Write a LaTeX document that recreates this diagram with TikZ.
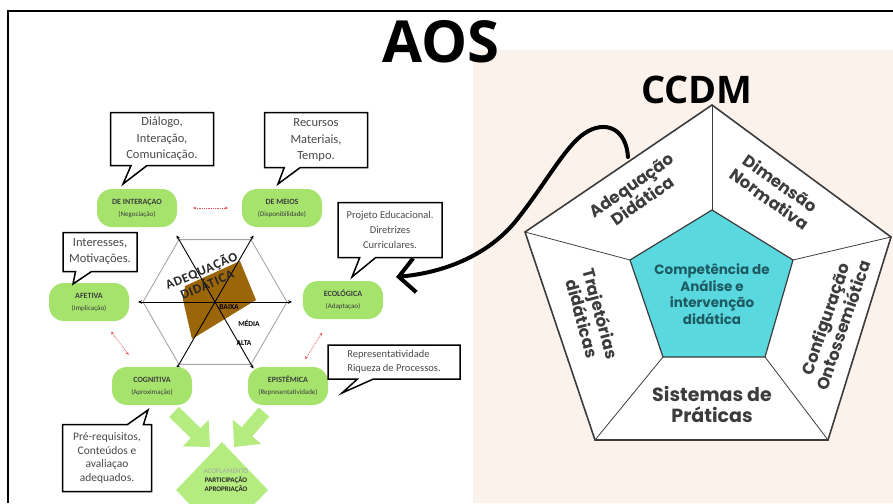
\documentclass[tikz,border=0pt]{standalone}
\usepackage{fontspec}
\setmainfont{Carlito}
\newfontfamily\titlefont{Open Sans}
\newfontfamily\popfont{Poppins}
\usepackage{tikz}
\usetikzlibrary{arrows.meta, positioning, shapes, calc}

\definecolor{peach}{HTML}{FBF2EC}
\definecolor{leaf}{HTML}{A5E36D}
\definecolor{leafarrow}{HTML}{B4EC80}
\definecolor{bronze}{HTML}{9B660A}
\definecolor{tealfill}{HTML}{5AD8DF}
\definecolor{tealtext}{HTML}{1E5A62}
\definecolor{inkgray}{HTML}{3C3C3C}
\definecolor{notegray}{HTML}{4A4A4A}
\definecolor{linkred}{HTML}{E8555A}

\begin{document}
\begin{tikzpicture}[x=1pt, y=-1pt,
    dim/.style={fill=leaf, rounded corners=15pt, minimum width=80pt, minimum height=38pt, align=center, inner sep=1pt, text=inkgray},
    note/.style={rectangle callout, draw=black, line width=1.5pt, fill=white, align=center, text=notegray, inner sep=2pt, callout pointer width=16pt},
    redlink/.style={linkred, densely dotted, line width=0.8pt, {Stealth[length=3pt,width=3pt]}-{Stealth[length=3pt,width=3pt]}},
    axis/.style={black, line width=0.9pt, {Stealth[length=4pt,width=3.5pt]}-{Stealth[length=4pt,width=3.5pt]}},
    bigarrow/.style={leafarrow, line width=14pt, -{Triangle[length=20pt,width=36pt]}},
    face/.style={font=\popfont\bfseries\fontsize{16.5}{19}\selectfont, text=inkgray, align=center, inner sep=0pt}]
    \useasboundingbox (0,0) rectangle (893,503);
    \clip (0,0) rectangle (893,503);
    \fill[white] (0,0) rectangle (893,503);
    \fill[peach] (473,50) rectangle (893,503);
    \draw[line width=1.2pt] (8,503) -- (8,11) -- (893,11);

    \node[font=\titlefont\bfseries\fontsize{58}{60}\selectfont] (aos) at (441,42) {AOS};
    \node[font=\titlefont\bfseries\fontsize{38}{40}\selectfont] (ccdm) at (697,90) {CCDM};

    % hexagon
    \coordinate (hc) at (215,302);
    \draw[gray!70, line width=0.9pt] ($(hc)+(0:72pt)$) \foreach \a in {60,120,...,300} {-- ($(hc)+(\a:72pt)$)} -- cycle;
    \fill[bronze] (185,286) -- (240,261) -- (256,300) -- (192,339) -- (183,300) -- cycle;
    \foreach \a in {0,60,120}
        \draw[axis] ($(hc)+(\a:77pt)$) -- ($(hc)+(\a+180:77pt)$);
    \node[rotate=23, align=center, text=black!85, inner sep=0pt, font=\bfseries\fontsize{13}{15}\selectfont\addfontfeatures{LetterSpace=6}] (adq) at (204,277) {ADEQUAÇÃO\\DIDÁTICA};
    \node[font=\bfseries\fontsize{7.5}{8}\selectfont] (baixa) at (229,307) {BAIXA};
    \node[font=\bfseries\fontsize{7.5}{8}\selectfont] (media) at (249,323) {MÉDIA};
    \node[font=\bfseries\fontsize{7.5}{8}\selectfont] (alta) at (244,343) {ALTA};

    % dimensions
    \foreach \nm/\px/\py/\ttl/\sub in {inter/137/208/DE INTERAÇAO/Negociação, meios/282/208/DE MEIOS/Disponibilidade, afet/89/302/AFETIVA/Implicação, eco/343/300/ECOLÓGICA/Adaptaçao, cogn/152/386/COGNITIVA/Aproximação, epis/288/386/EPISTÊMICA/Representatividade}
        \node[dim] (\nm) at (\px,\py) {{\fontsize{8}{10}\selectfont\bfseries \ttl}\\{\fontsize{7}{10}\selectfont (\sub)}};
    \draw[redlink, shorten <=16pt, shorten >=14pt] (inter) -- (meios);
    \draw[redlink, shorten <=13pt, shorten >=15pt] (afet) -- (cogn);
    \draw[redlink, shorten <=16pt, shorten >=9pt] (eco) -- (epis);

    \node[note, minimum width=103pt, minimum height=53pt, callout absolute pointer={(123,184)}, font=\fontsize{12.5}{16.5}\selectfont] (n-inter) at (162,139) {Diálogo,\\Interação,\\Comunicação.};
    \node[note, minimum width=103pt, minimum height=55pt, callout absolute pointer={(278,184)}, font=\fontsize{12.5}{16.5}\selectfont] (n-meios) at (316,140) {Recursos\\Materiais,\\Tempo.};
    \node[note, minimum width=104pt, minimum height=55pt, callout absolute pointer={(352,277)}, font=\fontsize{10.5}{15}\selectfont] (n-eco) at (390,230) {Projeto Educacional.\\Diretrizes\\Curriculares.};
    \node[note, minimum width=74pt, minimum height=39pt, callout absolute pointer={(73,284)}, font=\fontsize{12.5}{16}\selectfont] (n-afet) at (100,252) {Interesses,\\Motivações.};
    \node[note, minimum width=132pt, minimum height=34pt, align=left, callout absolute pointer={(342,393)}, font=\fontsize{10.5}{14}\selectfont] (n-epis) at (394,362) {Representatividade\\Riqueza de Processos.};
    \node[note, minimum width=89pt, minimum height=67pt, callout absolute pointer={(148,410)}, font=\fontsize{11.5}{13.5}\selectfont] (n-cogn) at (107,458) {Pré-requisitos,\\Conteúdos e\\avaliaçao\\adequados.};

    % coupling
    \coordinate (ga) at (174,412);
    \coordinate (gb) at (210,447);
    \coordinate (gc) at (264,412);
    \coordinate (gd) at (234,447);
    \draw[bigarrow] (ga) -- (gb);
    \draw[bigarrow] (gc) -- (gd);
    \node[diamond, fill=leafarrow, minimum width=92pt, minimum height=96pt, inner sep=0pt] (acop) at (222,490) {};
    \node[align=center, inner sep=0pt, text=black!85, font=\fontsize{7}{9}\selectfont] (acop-txt) at (226,481) {{\color{white!65!black}ACOPLAMENTO}\\\textbf{PARTICIPAÇÃO}\\\textbf{APROPRIAÇÃO}};

    % pentagon
    \foreach \n/\px/\py in {o1/712/105, o2/891/237, o3/828/440, o4/595/440, o5/525/232, i1/712/210, i2/793/260, i3/765/357, i4/663/357, i5/630/260}
        \coordinate (\n) at (\px,\py);
    \filldraw[fill=white, draw=inkgray, line width=1.6pt] (o1) -- (o2) -- (o3) -- (o4) -- (o5) -- cycle;
    \foreach \k in {1,...,5}
        \draw[inkgray, line width=0.8pt] (o\k) -- (i\k);
    \filldraw[fill=tealfill, draw=inkgray, line width=1.2pt] (i1) -- (i2) -- (i3) -- (i4) -- (i5) -- cycle;
    \node[face, rotate=35] (lbl-adeq) at (637,193) {Adequação\\Didática};
    \node[face, rotate=-35] (lbl-dim) at (775,191) {Dimensão\\Normativa};
    \node[face, rotate=-75] (lbl-traj) at (592,316) {Trajetórias\\didáticas};
    \node[face, rotate=71] (lbl-conf) at (834,322) {Configuração\\Ontossemiótica};
    \node[face, font=\popfont\bfseries\fontsize{19}{21}\selectfont] (lbl-sist) at (712,404) {Sistemas de\\Práticas};
    \node[align=center, inner sep=0pt, text=tealtext, font=\popfont\bfseries\fontsize{13.5}{16.5}\selectfont] (core) at (712,294) {Competência de\\Análise e\\intervenção\\didática};

    \coordinate (hook) at (628,157);
    \coordinate (hookend) at (396,277);
    \draw[line width=4pt, line cap=round, -{Straight Barb[length=16pt,width=34pt]}] (hook) .. controls (626,128) and (605,120) .. (585,133) .. controls (565,146) and (545,185) .. (515,222) .. controls (490,252) and (450,272) .. (hookend);
\end{tikzpicture}
\end{document}
